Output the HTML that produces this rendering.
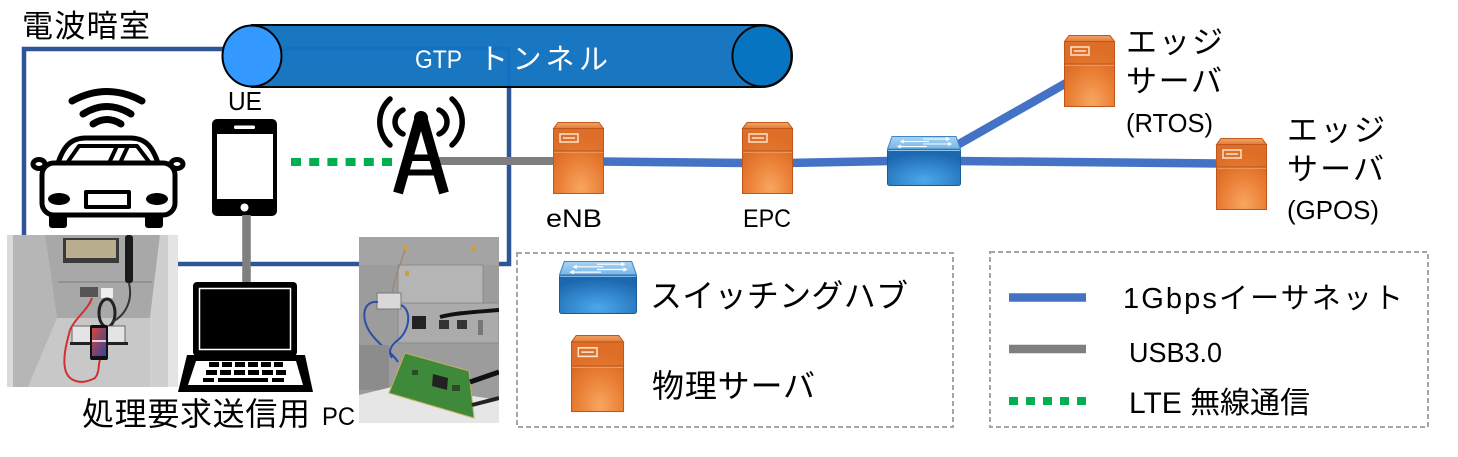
<!DOCTYPE html>
<html><head><meta charset="utf-8">
<style>
html,body{margin:0;padding:0;background:#fff;width:1458px;height:457px;overflow:hidden}
svg{display:block}
text{font-family:"Liberation Sans","Noto Sans CJK JP",sans-serif}
</style></head>
<body>
<svg width="1458" height="457" viewBox="0 0 1458 457" xmlns="http://www.w3.org/2000/svg">
<defs>
  <linearGradient id="ot" x1="0" y1="0" x2="0" y2="1"><stop offset="0" stop-color="#F3A56B"/><stop offset="1" stop-color="#E07A36"/></linearGradient>
  <radialGradient id="ob" cx="0.55" cy="0.92" r="0.8"><stop offset="0" stop-color="#F7A660"/><stop offset="0.55" stop-color="#EA7F36"/><stop offset="1" stop-color="#D8651E"/></radialGradient>
  <linearGradient id="st" x1="0" y1="0" x2="0" y2="1"><stop offset="0" stop-color="#A9D3F3"/><stop offset="1" stop-color="#78B6E8"/></linearGradient>
  <radialGradient id="sf" cx="0.5" cy="0.85" r="0.75"><stop offset="0" stop-color="#4CA8EA"/><stop offset="1" stop-color="#1C68B0"/></radialGradient>
  <linearGradient id="phs" x1="0" y1="0" x2="1" y2="1"><stop offset="0" stop-color="#D4483C"/><stop offset="1" stop-color="#3542A0"/></linearGradient>
  <clipPath id="c1"><rect x="7" y="235" width="171" height="152"/></clipPath>
  <clipPath id="c2"><rect x="359" y="237" width="140" height="186"/></clipPath>
  <g id="srv">
    <rect x="0.5" y="6.5" width="50" height="65" fill="url(#ob)" stroke="#C0571A"/>
    <rect x="1" y="7" width="49" height="22" fill="#E3762F" opacity="0.55"/>
    <polygon points="5,0.5 46,0.5 50.5,6.5 0.5,6.5" fill="url(#ot)" stroke="#C0571A"/>
    <line x1="1" y1="29" x2="50" y2="29" stroke="#B5541A"/>
    <line x1="1" y1="30.2" x2="50" y2="30.2" stroke="#F2A066"/>
    <rect x="7" y="12" width="18" height="8" fill="none" stroke="#FCE3CF" stroke-width="1.5"/>
    <line x1="10" y1="16" x2="22" y2="16" stroke="#FCE3CF" stroke-width="1.5"/>
  </g>
  <g id="sw">
    <rect x="0.5" y="13" width="73" height="36.5" rx="2" fill="url(#sf)" stroke="#1A5C9E"/>
    <line x1="1" y1="14.5" x2="73" y2="14.5" stroke="#8FC6EE" stroke-width="1"/>
    <polygon points="5,0.5 69,0.5 73.5,13 0.5,13" fill="url(#st)" stroke="#3F86C6"/>
    <g stroke="#fff" stroke-width="1.1" fill="none">
      <path d="M36 3 H62 M59 1.5 L62 3 L59 4.5"/>
      <path d="M14 5.5 H42 M17 4 L14 5.5 L17 7"/>
      <path d="M36 8 H64 M61 6.5 L64 8 L61 9.5"/>
      <path d="M11 10.5 H40 M14 9 L11 10.5 L14 12"/>
    </g>
  </g>
</defs>

<!-- chamber -->
<rect x="24" y="49" width="485" height="215" fill="none" stroke="#2F5597" stroke-width="4.5"/>

<!-- tunnel -->
<g opacity="0.97">
  <path d="M252 25 L762 25 A30 31 0 0 1 762 87 L252 87 Z" fill="#1273C1" stroke="#000" stroke-width="2"/>
  <ellipse cx="762" cy="56" rx="29.5" ry="30.5" fill="#0070C0" stroke="#000" stroke-width="2"/>
</g>
<ellipse cx="252" cy="56" rx="29.5" ry="30.5" fill="#3399FF" stroke="#000" stroke-width="2"/>
<text x="415" y="68" font-size="25" fill="#fff" textLength="47" lengthAdjust="spacingAndGlyphs">GTP</text>
<text x="479" y="69" font-size="29" fill="#fff" textLength="129" lengthAdjust="spacing">トンネル</text>

<text x="22" y="37" font-size="31" fill="#000" textLength="128" lengthAdjust="spacing">電波暗室</text>

<!-- car wifi -->
<g fill="none" stroke="#000" stroke-width="7" stroke-linecap="round">
  <path d="M72 101 Q107 82 142 101"/>
  <path d="M83 114 Q107 99 131 114"/>
  <path d="M93 124 Q107 115 121 124"/>
</g>
<!-- car -->
<g stroke="#000" stroke-width="5" fill="#fff" stroke-linejoin="round">
  <ellipse cx="39" cy="164" rx="6" ry="4.5"/>
  <ellipse cx="177" cy="164" rx="6" ry="4.5"/>
  <path d="M57 166 C63 147 70 138 86 138 L130 138 C146 138 153 147 159 166 Z"/>
  <rect x="42" y="163" width="133" height="52" rx="12"/>
  <path d="M67 163 L79 146 L137 146 L150 163" fill="none" stroke-width="4"/>
  <line x1="117" y1="146" x2="109" y2="163" stroke-width="4"/>
  <line x1="128" y1="146" x2="120" y2="163" stroke-width="4"/>
  <rect x="86" y="192" width="43" height="15" stroke-width="4"/>
</g>
<ellipse cx="59" cy="199" rx="11" ry="6" fill="#000"/>
<ellipse cx="157" cy="199" rx="11" ry="6" fill="#000"/>
<rect x="49" y="213" width="18" height="15" rx="3" fill="#000"/>
<rect x="145" y="213" width="18" height="15" rx="3" fill="#000"/>

<!-- phone -->
<text x="228" y="110" font-size="26" fill="#000" textLength="34" lengthAdjust="spacingAndGlyphs">UE</text>
<rect x="212" y="119" width="65" height="97" rx="5" fill="#000"/>
<rect x="217" y="134" width="56" height="65" fill="#fff"/>
<rect x="234" y="125.5" width="21" height="3.5" rx="1.5" fill="#fff"/>
<circle cx="244.5" cy="207.5" r="4" fill="#fff"/>

<!-- LTE dotted -->
<line x1="291" y1="162" x2="392" y2="162" stroke="#00B050" stroke-width="8" stroke-dasharray="10 8.2"/>

<!-- USB lines -->
<line x1="436" y1="161" x2="554" y2="161" stroke="#7F7F7F" stroke-width="8"/>
<line x1="246.5" y1="215" x2="246.5" y2="284" stroke="#7F7F7F" stroke-width="8.5"/>

<!-- antenna -->
<circle cx="421" cy="118" r="7" fill="#000"/>
<g stroke="#000" stroke-width="10">
  <line x1="419" y1="120" x2="398" y2="193"/>
  <line x1="423" y1="120" x2="444" y2="193"/>
</g>
<rect x="406" y="154.5" width="30" height="6.5" fill="#000"/>
<rect x="403" y="169.5" width="36" height="6" fill="#000"/>
<g fill="none" stroke="#000" stroke-width="5.5" stroke-linecap="round">
  <path d="M390 99 A31 31 0 0 0 390 145"/>
  <path d="M403 110 A13 13 0 0 0 403 134"/>
  <path d="M439 110 A13 13 0 0 1 439 134"/>
  <path d="M452 99 A31 31 0 0 1 452 145"/>
</g>

<!-- ethernet lines -->
<g stroke="#4472C4" stroke-width="8.5">
  <line x1="600" y1="161.5" x2="746" y2="163"/>
  <line x1="788" y1="163" x2="890" y2="161"/>
  <line x1="958" y1="161" x2="1220" y2="163.5"/>
  <line x1="952" y1="148" x2="1068" y2="82"/>
</g>

<!-- servers / switch -->
<use href="#srv" transform="translate(553,122)"/>
<use href="#srv" transform="translate(742,122)"/>
<use href="#srv" transform="translate(1064,35)"/>
<use href="#srv" transform="translate(1216,138)"/>
<use href="#sw" transform="translate(887,136)"/>

<text x="546" y="227" font-size="25" fill="#000" textLength="56" lengthAdjust="spacingAndGlyphs">eNB</text>
<text x="743" y="227" font-size="25" fill="#000" textLength="48" lengthAdjust="spacingAndGlyphs">EPC</text>

<text x="1126" y="53" font-size="31" fill="#000" textLength="97" lengthAdjust="spacing">エッジ</text>
<text x="1126" y="92" font-size="31" fill="#000" textLength="96" lengthAdjust="spacing">サーバ</text>
<text x="1126" y="132" font-size="26" fill="#000" textLength="87" lengthAdjust="spacingAndGlyphs">(RTOS)</text>
<text x="1287" y="141" font-size="31" fill="#000" textLength="98" lengthAdjust="spacing">エッジ</text>
<text x="1287" y="180" font-size="31" fill="#000" textLength="97" lengthAdjust="spacing">サーバ</text>
<text x="1287" y="219" font-size="26" fill="#000" textLength="92" lengthAdjust="spacingAndGlyphs">(GPOS)</text>

<!-- photo 1 -->
<g clip-path="url(#c1)">
  <rect x="7" y="235" width="171" height="152" fill="#C2C2C2"/>
  <polygon points="45,235 160,235 150,318 57,318" fill="#A8A8A8"/>
  <polygon points="7,235 45,235 57,318 28,387 7,387" fill="#B6B6B6"/>
  <polygon points="160,235 178,235 178,387 150,387 150,318" fill="#CFCFCF"/>
  <rect x="168" y="235" width="10" height="152" fill="#E4E4E4"/>
  <rect x="7" y="235" width="6" height="152" fill="#DADADA"/>
  <polygon points="57,318 150,318 150,387 28,387" fill="#C8C8C8"/>
  <rect x="63" y="238" width="56" height="25" fill="#3A3A3A"/>
  <rect x="66" y="240" width="50" height="18" fill="#B9AE8E"/>
  <line x1="58" y1="282" x2="152" y2="282" stroke="#8A8A8A" stroke-width="1.5"/>
  <rect x="125" y="235" width="8" height="48" rx="3" fill="#1A1A1A"/>
  <rect x="80" y="287" width="18" height="10" fill="#555"/>
  <rect x="101" y="288" width="12" height="10" fill="#EEE"/>
  <ellipse cx="107" cy="313" rx="8" ry="14" fill="none" stroke="#222" stroke-width="3"/>
  <path d="M129 283 C133 300 126 315 112 322" fill="none" stroke="#333" stroke-width="2"/>
  <rect x="72" y="326" width="53" height="17" fill="#E4E4E4" stroke="#666"/>
  <rect x="70" y="342" width="58" height="3" fill="#222"/>
  <rect x="90" y="325" width="18" height="35" rx="2" fill="#111"/>
  <rect x="92" y="328" width="14" height="28" fill="url(#phs)"/>
  <line x1="92" y1="341" x2="106" y2="341" stroke="#fff" stroke-width="1.5"/>
  <path d="M92 298 C88 310 75 318 70 330 C66 345 62 360 66 372 C70 382 82 385 95 378 C100 372 98 364 100 360" fill="none" stroke="#D03030" stroke-width="2"/>
</g>

<!-- laptop -->
<rect x="193" y="282" width="104" height="74" rx="4" fill="#000"/>
<rect x="199.5" y="288.5" width="91" height="61" fill="#000" stroke="#fff" stroke-width="1.5"/>
<polygon points="187,355 305,355 313,392 178,392" fill="#000"/>
<polygon points="196,361 296,361 303,385 188,385" fill="#fff"/>
<g fill="#000">
  <rect x="209" y="362" width="10" height="5"/><rect x="222" y="362" width="10" height="5"/><rect x="235" y="362" width="10" height="5"/>
  <rect x="248" y="362" width="10" height="5"/><rect x="261" y="362" width="10" height="5"/><rect x="274" y="362" width="9" height="5"/>
  <rect x="206" y="370" width="11" height="5"/><rect x="220" y="370" width="11" height="5"/><rect x="234" y="370" width="11" height="5"/>
  <rect x="248" y="370" width="11" height="5"/><rect x="262" y="370" width="11" height="5"/><rect x="276" y="370" width="10" height="5"/>
  <rect x="203" y="378" width="11" height="4"/><rect x="218" y="378" width="50" height="4"/><rect x="272" y="378" width="12" height="4"/>
</g>
<text x="82" y="425" font-size="32" fill="#000" textLength="228" lengthAdjust="spacing">処理要求送信用</text>
<text x="322" y="425" font-size="25" fill="#000" textLength="33" lengthAdjust="spacingAndGlyphs">PC</text>

<!-- photo 2 -->
<g clip-path="url(#c2)">
  <rect x="359" y="237" width="140" height="186" fill="#9C9C9C"/>
  <rect x="359" y="237" width="140" height="28" fill="#A4A4A4"/>
  <rect x="398" y="265" width="85" height="38" fill="#B5B5B5" stroke="#8A8A8A"/>
  <rect x="398" y="303" width="101" height="40" fill="#ABABAB" stroke="#8A8A8A"/>
  <rect x="403" y="246" width="4" height="6" fill="#C9A040"/>
  <rect x="472" y="246" width="4" height="6" fill="#C9A040"/>
  <rect x="405" y="271" width="4" height="5" fill="#C9A040"/>
  <rect x="412" y="316" width="14" height="13" fill="#222"/>
  <rect x="439" y="320" width="10" height="9" fill="#333"/>
  <rect x="457" y="320" width="10" height="9" fill="#333"/>
  <rect x="478" y="320" width="5" height="15" fill="#777"/>
  <path d="M440 317 C455 313 475 312 499 310" fill="none" stroke="#111" stroke-width="4"/>
  <path d="M392 293 C395 275 402 260 405 250" fill="none" stroke="#A08060" stroke-width="1"/>
  <rect x="377" y="293" width="24" height="16" fill="#D8D8D8" stroke="#777"/>
  <path d="M378 302 C362 300 360 320 372 335 C382 348 392 352 398 362" fill="none" stroke="#2B4FA8" stroke-width="2"/>
  <path d="M401 305 C412 310 410 330 398 340 C390 346 388 352 392 358" fill="none" stroke="#2B4FA8" stroke-width="2"/>
  <rect x="359" y="345" width="30" height="45" fill="#8C8C8C"/>
  <polygon points="359,395 400,385 499,400 499,423 359,423" fill="#E6E6E6"/>
  <polygon points="405,353 469,371 474,418 389,393" fill="#3F8A3A" stroke="#C4B060"/>
  <polygon points="433,374 448,378 447,390 432,386" fill="#222"/>
  <rect x="452" y="385" width="8" height="6" fill="#2A4A2A"/>
  <rect x="412" y="370" width="6" height="5" fill="#2A4A2A"/>
  <path d="M470 382 L499 372" stroke="#111" stroke-width="5"/>
  <path d="M472 405 L499 398" stroke="#222" stroke-width="4"/>
</g>

<!-- legend 1 -->
<rect x="517" y="253" width="436" height="174" fill="none" stroke="#A6A6A6" stroke-width="2" stroke-dasharray="5 3"/>
<use href="#sw" transform="translate(559,261) scale(1.054,1.06)"/>
<text x="650" y="307" font-size="32" fill="#000" textLength="258" lengthAdjust="spacing">スイッチングハブ</text>
<use href="#srv" transform="translate(571,335) scale(1.04,1.07)"/>
<text x="652" y="397" font-size="32" fill="#000" textLength="163" lengthAdjust="spacing">物理サーバ</text>

<!-- legend 2 -->
<rect x="990" y="252" width="438" height="175" fill="none" stroke="#A6A6A6" stroke-width="2" stroke-dasharray="5 3"/>
<line x1="1009" y1="297.5" x2="1086" y2="297.5" stroke="#4472C4" stroke-width="8.5"/>
<line x1="1009" y1="349" x2="1086" y2="349" stroke="#7F7F7F" stroke-width="8.5"/>
<line x1="1009" y1="401" x2="1087" y2="401" stroke="#00B050" stroke-width="8" stroke-dasharray="9 8"/>
<text x="1123" y="308" font-size="29" fill="#000" textLength="280" lengthAdjust="spacing">1Gbpsイーサネット</text>
<text x="1129" y="362" font-size="28" fill="#000" textLength="93" lengthAdjust="spacingAndGlyphs">USB3.0</text>
<text x="1129" y="413" font-size="30" fill="#000" textLength="181" lengthAdjust="spacing">LTE 無線通信</text>
</svg>
</body></html>
